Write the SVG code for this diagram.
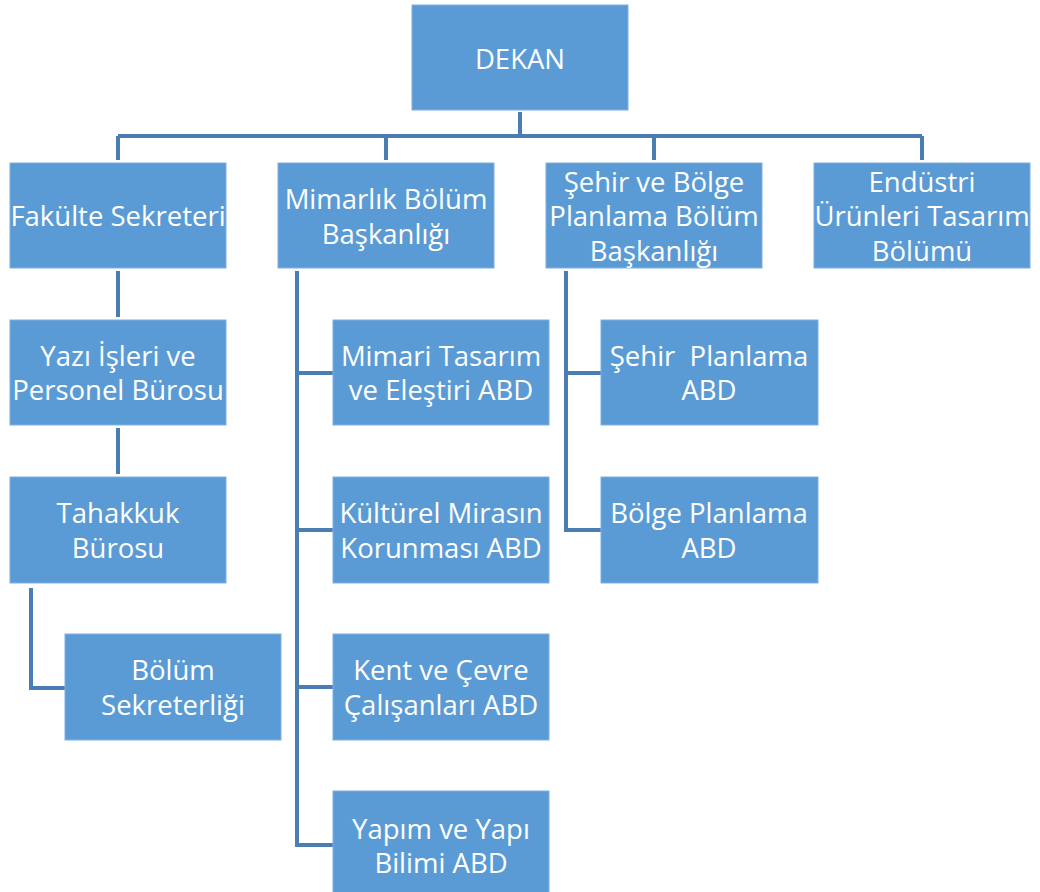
<svg xmlns="http://www.w3.org/2000/svg" width="1040" height="892" viewBox="0 0 1040 892">
<style>
.box{fill:#5B9BD5;stroke:#7FB0E0;stroke-width:1}
.t{fill:#FFFFFF;font-family:"Open Sans","Liberation Sans",sans-serif;font-size:27.5px;text-anchor:middle;dominant-baseline:central}
.ln{fill:none;stroke:#4A7DB3;stroke-width:4}
</style>
<rect width="1040" height="892" fill="#FFFFFF"/>
<g id="connectors">
<path class="ln" d="M520 112V136M118 136H922M118 136V160M386 136V160M654 136V160M922 136V160"/>
<path class="ln" d="M118 271V317M118 428V474"/>
<path class="ln" d="M31 588V688H65"/>
<path class="ln" d="M297 271V845H333M297 373H333M297 530H333M297 687H333"/>
<path class="ln" d="M566 271V530H601M566 373H601"/>
</g>
<g id="dekan"><rect class="box" x="412" y="5" width="216" height="105"/><text class="t" x="520" y="58">DEKAN</text></g>
<g id="fakulte"><rect class="box" x="10" y="163" width="216" height="105"/><text class="t" x="118" y="215">Fakülte Sekreteri</text></g>
<g id="mimarlik"><rect class="box" x="278" y="163" width="216" height="105"/><text class="t" x="386" y="198">Mimarlık Bölüm</text><text class="t" x="386" y="233">Başkanlığı</text></g>
<g id="sehir"><rect class="box" x="546" y="163" width="216" height="105"/><text class="t" x="654" y="181">Şehir ve Bölge</text><text class="t" x="654" y="215">Planlama Bölüm</text><text class="t" x="654" y="250">Başkanlığı</text></g>
<g id="endustri"><rect class="box" x="814" y="163" width="216" height="105"/><text class="t" x="922" y="181">Endüstri</text><text class="t" x="922" y="215">Ürünleri Tasarım</text><text class="t" x="922" y="250">Bölümü</text></g>
<g id="yazi"><rect class="box" x="10" y="320" width="216" height="105"/><text class="t" x="118" y="355">Yazı İşleri ve</text><text class="t" x="118" y="389">Personel Bürosu</text></g>
<g id="tahakkuk"><rect class="box" x="10" y="477" width="216" height="106"/><text class="t" x="118" y="512">Tahakkuk</text><text class="t" x="118" y="547">Bürosu</text></g>
<g id="bolumsek"><rect class="box" x="65" y="634" width="216" height="106"/><text class="t" x="173" y="669">Bölüm</text><text class="t" x="173" y="704">Sekreterliği</text></g>
<g id="mimari"><rect class="box" x="333" y="320" width="216" height="105"/><text class="t" x="441" y="355">Mimari Tasarım</text><text class="t" x="441" y="389">ve Eleştiri ABD</text></g>
<g id="kulturel"><rect class="box" x="333" y="477" width="216" height="106"/><text class="t" x="441" y="512">Kültürel Mirasın</text><text class="t" x="441" y="547">Korunması ABD</text></g>
<g id="kent"><rect class="box" x="333" y="634" width="216" height="106"/><text class="t" x="441" y="669">Kent ve Çevre</text><text class="t" x="441" y="704">Çalışanları ABD</text></g>
<g id="yapim"><rect class="box" x="333" y="791" width="216" height="106"/><text class="t" x="441" y="828">Yapım ve Yapı</text><text class="t" x="441" y="862">Bilimi ABD</text></g>
<g id="sehirabd"><rect class="box" x="601" y="320" width="217" height="105"/><text class="t" x="709" y="355" xml:space="preserve">Şehir  Planlama</text><text class="t" x="709" y="389">ABD</text></g>
<g id="bolgeabd"><rect class="box" x="601" y="477" width="217" height="106"/><text class="t" x="709" y="512">Bölge Planlama</text><text class="t" x="709" y="547">ABD</text></g>
</svg>
